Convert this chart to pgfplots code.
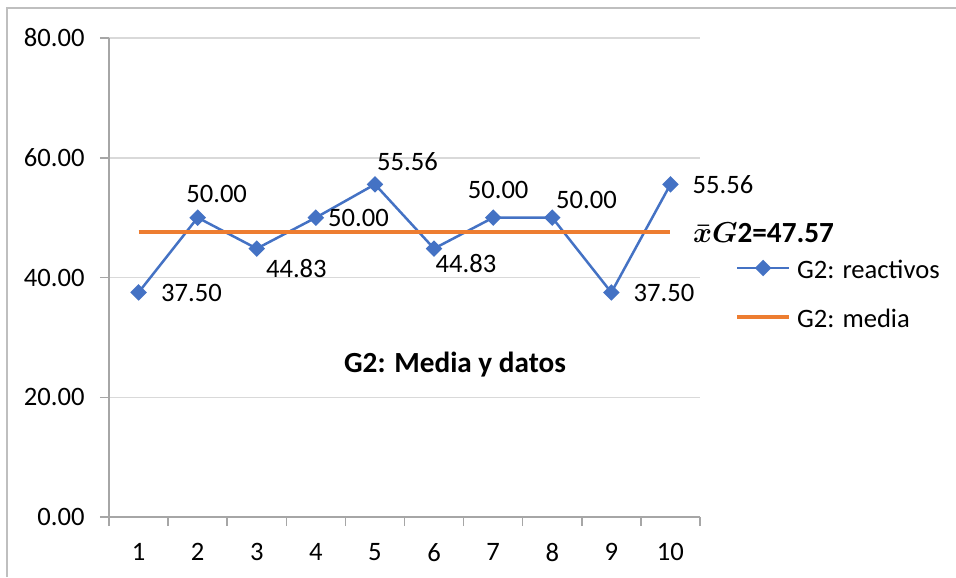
\documentclass[border=0pt]{standalone}
\usepackage{pgfplots}
\pgfplotsset{compat=1.18}
\usepackage{pgfplotstable}
\usepackage{fontspec}
\setmainfont{Carlito}
\definecolor{serblue}{HTML}{4472C4}
\definecolor{serorange}{HTML}{ED7D31}
\definecolor{axgray}{HTML}{A6A6A6}
\definecolor{gridgray}{HTML}{D9D9D9}
\definecolor{bordergray}{HTML}{BFBFBF}

\pgfplotstableread{
x y dx dy
1 37.50 26.5 0
2 50.00 9.5 11.8
3 44.83 19.8 -9.85
4 50.00 21.35 0
5 55.56 16.3 11.4
6 44.83 16 -7.7
7 50.00 2.5 13.8
8 50.00 17.15 9
9 37.50 26.35 0
10 55.56 26.3 0
}\datatable

\begin{document}
\begin{tikzpicture}
\useasboundingbox (-54.5pt,-30pt) rectangle (423.5pt,258.5pt);
\draw[bordergray, line width=0.75pt] (-51pt,-30pt) -- (-51pt,254.5pt) -- (423.5pt,254.5pt);
\begin{axis}[
 name=ax, at={(0,0)}, anchor=south west,
 scale only axis, width=295.5pt, height=239.5pt,
 xmin=0.5, xmax=10.5, ymin=0, ymax=80,
 axis x line*=bottom, axis y line*=left,
 axis line style={axgray, line width=0.75pt},
 xtick={0.5,1.5,...,10.5},
 xticklabels={1,2,3,4,5,6,7,8,9,10},
 x tick label as interval,
 ytick={0,20,...,80},
 tick align=outside, major tick length=4.5pt,
 tick style={axgray, line width=0.75pt},
 ymajorgrids, grid style={gridgray, line width=0.75pt},
 /pgf/number format/assume math mode=true,
 tick label style={font=\fontsize{13.3}{16}\selectfont},
 yticklabel style={anchor=east, inner sep=0pt, xshift=-7.5pt, /pgf/number format/.cd, fixed, fixed zerofill, precision=2},
 xticklabel style={anchor=north, inner sep=0pt, yshift=-8.5pt},
 clip=false,
 legend image code/.code={\draw[mark repeat=2, mark phase=2, #1] plot coordinates {(0pt,0pt) (12.9pt,0pt) (25.85pt,0pt)};},
 legend style={at={(1.0592,0.4690)}, anchor=west, draw=none, fill=none, inner sep=0pt, row sep=12.65pt, column sep=3pt, font=\fontsize{13.3}{16}\selectfont, nodes={inner sep=0pt, text height=11pt, text depth=0.7pt}, cells={anchor=west}},
]
\addplot[serblue, line width=1.25pt, mark=square*, mark size=2.3pt,
  mark options={rotate=45, solid, fill=serblue, draw=serblue},
  nodes near coords={\pgfmathprintnumber[fixed,fixed zerofill,precision=2]{\pgfplotspointmeta}},
  nodes near coords align={center},
  visualization depends on={\thisrow{dx}\as\dx},
  visualization depends on={\thisrow{dy}\as\dy},
  every node near coord/.append style={anchor=center, inner sep=0pt, xshift=\dx pt, yshift=\dy pt, text=black, font=\fontsize{13.3}{16}\selectfont},
] table[x=x, y=y] {\datatable};
\addlegendentry{G2: reactivos}
\addplot[serorange, line width=2pt] coordinates {(1,47.57) (10,47.57)};
\addlegendentry{G2: media}
\end{axis}
\node[font=\bfseries\fontsize{14.6}{17}\selectfont, inner sep=0pt] at ([shift={(173pt,76.3pt)}]ax.south west) {G2: Media y datos};
\node[font=\fontsize{14.6}{17}\selectfont, inner sep=0pt, anchor=west] at ([shift={(291.85pt,142.25pt)}]ax.south west) {{\boldmath$\bar{x}G$}\textbf{2=47.57}};
\end{tikzpicture}
\end{document}
